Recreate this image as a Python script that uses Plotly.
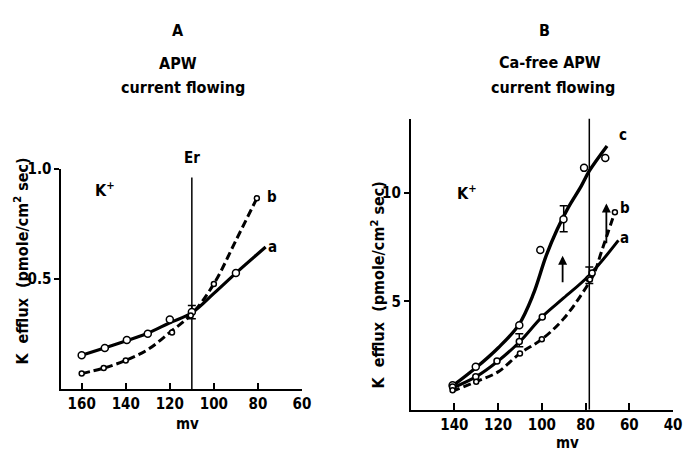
import plotly.graph_objects as go

FONT = "DejaVu Sans Condensed, Liberation Sans Narrow, DejaVu Sans"

# ---------------- Panel A data (APW, current flowing) ----------------
A_a_line_mv = [160, 150, 140, 130, 120, 110, 100, 90, 76.5]
A_a_line_val = [0.154, 0.186, 0.219, 0.254, 0.302, 0.347, 0.435, 0.527, 0.645]
A_a_pts_mv = [160, 149.5, 139.5, 130, 120, 110, 90]
A_a_pts_val = [0.154, 0.187, 0.223, 0.252, 0.317, 0.35, 0.527]

A_b_line_mv = [160, 150, 140, 130, 120, 110, 100, 90, 80.5]
A_b_line_val = [0.072, 0.096, 0.131, 0.18, 0.258, 0.342, 0.478, 0.675, 0.866]
A_b_pts_mv = [160, 150, 140, 119, 110.5, 100, 80.5]
A_b_pts_val = [0.072, 0.096, 0.131, 0.258, 0.335, 0.478, 0.866]

A_err_mv = [110]
A_err_val = [0.35]
A_err_size = [0.03]
ER_A = 110
ER_A_top = 0.96

# ---------------- Panel B data (Ca-free APW, current flowing) ----------------
B_c_line_mv = [140.8, 130, 120, 110.7, 104, 98, 93, 88, 82, 78.3, 70.2]
B_c_line_val = [1.1, 1.95, 2.85, 3.89, 5.3, 7.1, 8.3, 9.3, 10.3, 11.0, 12.15]
B_c_pts_mv = [140.8, 130.2, 110.3, 100.7, 90.1, 80.7, 71]
B_c_pts_val = [1.13, 1.98, 3.89, 7.36, 8.78, 11.14, 11.59]

B_a_line_mv = [141, 130, 120, 110, 100, 90, 78.3, 65]
B_a_line_val = [1.0, 1.53, 2.25, 3.15, 4.27, 5.15, 6.2, 7.8]
B_a_pts_mv = [140.8, 130.2, 120.5, 110.3, 99.8, 78.4, 77]
B_a_pts_val = [1.05, 1.53, 2.25, 3.15, 4.27, 6.04, 6.3]

B_b_line_mv = [141, 130, 120, 110, 100, 90, 80, 76, 73, 70, 66.6]
B_b_line_val = [0.85, 1.3, 1.75, 2.6, 3.25, 4.2, 5.6, 6.3, 7.2, 8.1, 9.1]
B_b_pts_mv = [140.8, 130, 110, 100, 78, 66.6]
B_b_pts_val = [0.9, 1.3, 2.6, 3.25, 6.0, 9.1]

B_err_mv = [90, 110.3, 78.3]
B_err_val = [8.8, 3.2, 6.2]
B_err_size = [0.6, 0.3, 0.38]
ER_B = 78.3
ER_B_top = 13.45

# arrows (x, y_tail, y_head)
B_arrow_mv = [90.5, 70.5]
B_arrow_tail = [5.8, 7.6]
B_arrow_head = [7.1, 9.5]

fig = go.Figure()

def line(x, y, xa, ya, dash="solid", w=3.2):
    fig.add_trace(go.Scatter(x=x, y=y, mode="lines", xaxis=xa, yaxis=ya,
                             line=dict(color="black", width=w, dash=dash, shape="spline"),
                             showlegend=False, hoverinfo="skip"))

def pts(x, y, xa, ya, size=7):
    fig.add_trace(go.Scatter(x=x, y=y, mode="markers", xaxis=xa, yaxis=ya,
                             marker=dict(symbol="circle", size=size, color="white",
                                         line=dict(color="black", width=1.5)),
                             showlegend=False, hoverinfo="skip"))

def err(x, y, e, xa, ya):
    fig.add_trace(go.Scatter(x=x, y=y, mode="markers", xaxis=xa, yaxis=ya,
                             marker=dict(size=1, color="rgba(0,0,0,0)"),
                             error_y=dict(type="data", array=e, color="black",
                                          thickness=1.5, width=4),
                             showlegend=False, hoverinfo="skip"))

DASH = "8px,4px"

# Panel A
line(A_b_line_mv, A_b_line_val, "x", "y", dash=DASH, w=3)
line(A_a_line_mv, A_a_line_val, "x", "y", w=3.2)
fig.add_trace(go.Scatter(x=[ER_A, ER_A], y=[0, ER_A_top], mode="lines",
                         line=dict(color="black", width=1.5), showlegend=False,
                         hoverinfo="skip", xaxis="x", yaxis="y"))
err(A_err_mv, A_err_val, A_err_size, "x", "y")
pts(A_a_pts_mv, A_a_pts_val, "x", "y", size=7)
pts(A_b_pts_mv, A_b_pts_val, "x", "y", size=5)

# Panel B
line(B_b_line_mv, B_b_line_val, "x2", "y2", dash=DASH, w=3)
line(B_a_line_mv, B_a_line_val, "x2", "y2", w=3)
line(B_c_line_mv, B_c_line_val, "x2", "y2", w=3.4)
fig.add_trace(go.Scatter(x=[ER_B, ER_B], y=[0, ER_B_top], mode="lines",
                         line=dict(color="black", width=1.5), showlegend=False,
                         hoverinfo="skip", xaxis="x2", yaxis="y2"))
err(B_err_mv, B_err_val, B_err_size, "x2", "y2")
pts(B_c_pts_mv, B_c_pts_val, "x2", "y2", size=7)
pts(B_a_pts_mv, B_a_pts_val, "x2", "y2", size=6)
pts(B_b_pts_mv, B_b_pts_val, "x2", "y2", size=5)

tf = dict(family=FONT, size=15, color="black", weight="bold")
axcommon = dict(showgrid=False, zeroline=False, showline=True, linecolor="black",
                linewidth=1.5, tickcolor="black", tickwidth=1.5, tickfont=tf)

fig.update_layout(
    width=689, height=453,
    margin=dict(l=0, r=0, t=0, b=0),
    paper_bgcolor="white", plot_bgcolor="white",
    font=dict(family=FONT, color="black"),
    xaxis=dict(domain=[62/689, 306/689], range=[169.3, 60], anchor="y",
               tickvals=[160, 140, 120, 100, 80, 60], ticks="inside", ticklen=7, **axcommon),
    yaxis=dict(domain=[1-388/453, 1-163/453], range=[0, 1.0], anchor="x",
               tickvals=[0.5, 1.0], ticktext=["0.5", "1.0"], ticks="outside", ticklen=5, **axcommon),
    xaxis2=dict(domain=[416/689, 682/689], range=[160, 40], anchor="y2",
                tickvals=[140, 120, 100, 80, 60, 40], ticks="inside", ticklen=7, **axcommon),
    yaxis2=dict(domain=[1-409/453, 1-112/453], range=[0, 13.4], anchor="x2",
                tickvals=[5, 10], ticks="outside", ticklen=5, **axcommon),
)

ann = []
def txt(t, x, y, size=15, xref="paper", yref="paper", angle=0, xanchor="center", yanchor="middle"):
    ann.append(dict(text=t, x=x, y=y, xref=xref, yref=yref, showarrow=False,
                    textangle=angle, xanchor=xanchor, yanchor=yanchor,
                    font=dict(family=FONT, size=size, color="black", weight="bold")))

# titles
txt("A", 180/689, 1-22/453, size=16)
txt("APW", 180/689, 1-56/453, size=16)
txt("current flowing", 185/689, 1-80/453, size=16)
txt("B", 552/689, 1-22/453, size=16)
txt("Ca-free APW", 557/689, 1-55/453, size=16)
txt("current flowing", 560/689, 1-80/453, size=16)

# axis titles
ylab = "K  efflux  (pmole/cm<sup>2</sup> sec)"
txt(ylab, 22/689, 1-257/453, size=16, angle=-90)
txt(ylab, 383/689, 1-281/453, size=16, angle=-90)
txt("mv", 190/689, 1-423/453, size=15)
txt("mv", 575/689, 1-443/453, size=15)

# in-plot labels A
txt("K<sup>+</sup>", 149.3, 0.907, xref="x", yref="y", size=16)
txt("Er", 110, 1.0, xref="x", yref="y", yanchor="bottom")
txt("b", 73.5, 0.872, xref="x", yref="y")
txt("a", 73.5, 0.646, xref="x", yref="y")

# in-plot labels B
txt("K<sup>+</sup>", 134, 10.0, xref="x2", yref="y2", size=16)
txt("Er", 78.3, 13.45, xref="x2", yref="y2", yanchor="bottom")
txt("c", 63, 12.66, xref="x2", yref="y2")
txt("b", 62, 9.28, xref="x2", yref="y2")
txt("a", 62, 7.93, xref="x2", yref="y2")

for mv, yt, yh in zip(B_arrow_mv, B_arrow_tail, B_arrow_head):
    ann.append(dict(x=mv, y=yh, ax=mv, ay=yt, xref="x2", yref="y2", axref="x2", ayref="y2",
                    showarrow=True, arrowhead=2, arrowsize=1, arrowwidth=1.8,
                    arrowcolor="black", text=""))

fig.update_layout(annotations=ann)
fig.write_html("out.html")
